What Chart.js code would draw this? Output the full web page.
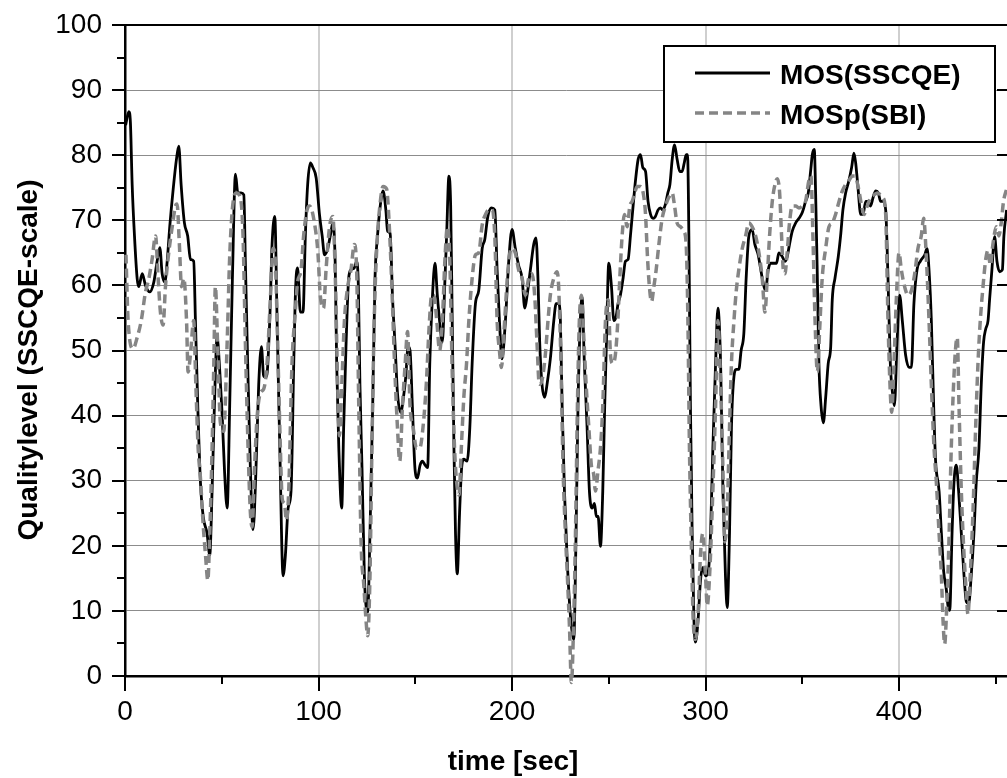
<!DOCTYPE html>
<html>
<head>
<meta charset="utf-8">
<title>MOS vs MOSp</title>
<script src="https://cdn.jsdelivr.net/npm/chart.js@4.4.1/dist/chart.umd.min.js"></script>
<style>
  html, body { margin: 0; padding: 0; background: #fff; overflow: hidden; }
  #wrap { width: 1007px; height: 778px; }
</style>
</head>
<body>
<div id="wrap"><canvas id="myChart" width="1007" height="778"></canvas></div>
<script>
// MOS(SSCQE) - time [sec] and quality level
const mosTime = [
  0.3, 2.0, 2.8, 3.7, 4.9, 6.3, 7.1, 8.9, 10.6, 12.8, 14.9, 16.6, 18.0, 19.2, 20.6, 21.8, 23.2, 24.9, 26.6, 27.8,
  29.0, 30.7, 32.4, 33.8, 35.5, 36.4, 37.6, 39.0, 40.4, 42.4, 43.8, 45.0, 46.2, 47.6, 49.0, 50.2, 51.4, 52.8, 54.1, 55.5,
  57.1, 58.3, 60.0, 61.4, 62.2, 63.4, 64.8, 66.2, 67.6, 69.1, 70.5, 71.7, 73.1, 74.8, 76.0, 77.4, 78.6, 80.0, 81.7, 82.9,
  84.3, 85.8, 87.2, 88.2, 89.2, 90.6, 92.0, 93.2, 94.4, 95.8,
  97.1, 98.8, 100.5, 101.9, 103.1, 104.8, 106.5, 107.4, 108.6, 109.4, 110.5, 112.0, 113.0, 114.2, 115.6, 116.8, 118.5, 119.7, 120.6, 121.4,
  122.5, 123.7, 125.4, 126.6, 128.0, 129.2, 130.5, 131.9, 133.4, 134.8, 135.7, 137.0, 138.3, 139.6, 140.8, 142.5, 143.9, 145.1, 146.3, 147.3,
  148.5, 149.9, 151.1, 152.5, 153.7, 155.1, 156.4, 157.5, 158.8, 160.2, 161.4, 162.8, 164.0, 165.2, 166.2, 167.4, 168.3, 169.1, 170.0, 170.8,
  171.7, 172.9, 173.9, 175.1, 176.8, 178.2, 179.4, 181.1, 182.8, 184.6, 185.9, 187.5, 189.4, 191.1, 192.3, 193.5,
  194.8, 196.6, 198.3, 200.0, 201.7, 203.4, 205.2, 206.6, 207.8, 209.5, 211.2, 212.4, 213.4, 214.3, 215.5, 216.9, 218.1, 219.8, 221.6, 222.8,
  224.1, 225.0, 225.9, 227.1, 228.4, 229.8, 231.0, 231.9, 233.1, 234.1, 235.3, 236.2, 237.4, 238.8, 240.0, 241.4, 242.6, 243.6, 244.5, 245.7,
  246.9, 247.9, 248.8, 250.0, 251.4, 252.6, 253.8, 254.8, 256.0, 257.4, 258.6, 260.0, 261.2, 262.4, 263.8, 265.2, 266.4, 267.6, 269.0, 270.3,
  271.6, 272.9, 274.1, 275.5, 276.7, 277.9, 279.3, 280.5, 281.6, 282.8, 284.0, 285.3, 286.7, 287.9, 289.0, 290.0, 290.7, 291.4, 292.2, 293.1,
  294.0, 294.8, 296.2, 297.4, 298.6, 300.0, 301.4, 302.6, 303.8, 305.2, 306.4,
  307.8, 309.0, 310.3, 311.2, 312.4, 313.4, 314.7, 315.9, 317.2, 318.4, 319.8, 321.0, 322.4, 324.1, 325.5, 327.2, 328.4, 329.7, 331.0, 332.4,
  333.6, 335.3, 336.7, 337.9, 339.7, 341.0, 342.2, 343.4, 344.8, 346.6, 348.3, 350.0, 351.7, 353.1, 354.3, 355.2, 356.2, 356.9, 357.8, 358.6,
  359.7, 360.9, 362.1, 363.4, 364.7, 365.5, 366.9, 368.6, 369.8, 371.0, 372.4, 374.1, 375.5, 376.7, 377.6, 378.8, 380.2, 381.4, 382.8, 384.1,
  385.3, 386.6, 388.0, 389.3, 390.5,
  391.7, 393.1, 394.3, 395.5, 396.9, 397.6, 399.0, 400.3, 401.7, 403.4, 405.2, 406.4, 407.7, 409.3, 411.0, 413.3, 414.5, 415.5, 416.7, 417.9,
  418.9, 420.7, 421.9, 423.1, 424.4, 425.3, 426.2, 427.4, 428.4, 429.6, 430.8, 432.2, 433.6, 434.8, 436.0, 437.3, 438.7, 439.9, 441.3, 442.5,
  443.7, 444.8, 446.0, 446.8, 448.0, 449.4, 450.6, 452.0, 453.4, 454.2, 455.6
];
const mosValue = [
  84.6, 86.7, 85.0, 75.5, 67.6, 61.0, 59.8, 61.8, 60.0, 59.0, 60.5, 63.7, 65.8, 61.8, 60.5, 63.7, 69.3, 74.8, 79.4, 81.4,
  75.5, 69.6, 67.6, 64.0, 63.7, 54.6, 41.5, 29.7, 24.5, 21.9, 18.6, 28.4, 41.5, 52.0, 46.7, 40.2, 31.7, 25.8, 41.5, 61.0,
  77.1, 74.2, 74.2, 73.9, 63.7, 48.0, 31.7, 22.5, 31.0, 44.8, 50.6, 46.0, 46.0, 54.6, 66.3, 70.6, 54.6, 35.0, 15.4, 18.6,
  25.8, 28.4, 48.0, 59.8, 62.7, 55.9, 55.9, 67.6, 75.5, 78.8,
  78.1, 76.5, 70.9, 67.6, 64.7, 65.7, 68.3, 69.6, 63.7, 48.0, 35.0, 25.8, 38.2, 50.6, 61.1, 62.4, 62.7, 63.7, 59.8, 44.8,
  31.7, 15.4, 9.8, 21.9, 41.5, 61.1, 67.6, 72.2, 74.5, 71.6, 68.3, 68.0, 57.8, 50.6, 43.5, 40.5, 42.8, 46.0, 50.6, 50.0,
  41.5, 31.7, 30.4, 32.4, 33.0, 32.4, 32.0, 48.0, 57.8, 63.4, 58.5, 53.9, 51.3, 59.8, 67.6, 76.8, 72.2, 54.6, 35.0, 21.9,
  15.7, 25.1, 31.7, 33.3, 33.0, 38.2, 48.0, 57.2, 59.2, 65.7, 67.0, 70.6, 71.9, 71.6, 62.4, 54.6,
  48.7, 54.6, 63.7, 68.6, 65.7, 63.1, 61.1, 56.5, 58.5, 62.4, 66.3, 67.3, 61.1, 51.3, 44.8, 42.8, 44.8, 48.7, 54.6, 57.2,
  57.2, 54.6, 41.5, 28.4, 18.6, 10.8, 6.9, 5.6, 21.9, 41.5, 54.6, 58.2, 48.0, 38.2, 28.4, 25.8, 26.5, 24.5, 24.5, 19.9,
  28.4, 41.5, 51.3, 63.4, 59.8, 54.6, 55.2, 57.2, 58.5, 61.1, 63.7, 64.0, 67.6, 71.6, 76.1, 79.4, 80.1, 78.1, 77.5, 72.9,
  70.9, 70.3, 70.6, 71.6, 71.9, 71.6, 72.5, 74.2, 75.5, 79.4, 81.6, 79.4, 77.5, 77.5, 78.8, 80.1, 80.1, 67.6, 41.5, 21.9,
  8.8, 5.2, 8.8, 14.7, 16.7, 15.4, 16.0, 21.9, 35.0, 48.0, 56.5,
  48.0, 28.4, 15.4, 10.5, 21.9, 38.2, 46.0, 47.1, 47.1, 50.0, 52.6, 61.1, 67.6, 68.6, 66.3, 64.7, 62.7, 60.5, 59.2, 62.4,
  63.4, 63.4, 63.4, 65.0, 64.4, 63.7, 64.4, 66.3, 68.3, 69.6, 70.3, 71.2, 72.9, 74.2, 77.5, 80.1, 80.9, 74.2, 61.1, 48.0,
  41.5, 38.9, 42.8, 48.0, 50.6, 57.8, 61.1, 64.4, 67.6, 71.6, 74.2, 76.1, 78.1, 80.3, 78.8, 75.0, 70.9, 70.9, 72.9, 72.9,
  72.2, 73.5, 74.5, 74.2, 72.9,
  72.9, 71.6, 61.1, 48.0, 42.8, 41.5, 51.3, 58.5, 54.6, 49.3, 47.4, 47.4, 57.2, 62.4, 63.7, 64.7, 65.7, 62.4, 54.6, 41.5,
  33.0, 28.4, 21.9, 16.0, 13.4, 10.8, 10.1, 21.9, 29.7, 32.4, 28.4, 21.9, 15.4, 11.4, 11.1, 15.4, 21.9, 29.7, 35.0, 44.8,
  51.3, 53.3, 54.6, 57.8, 62.4, 67.5, 63.7, 62.1, 62.4, 67.6, 71.6
];

// MOSp(SBI) - predicted quality level
const sbiTime = [
  0.5, 1.6, 4.2, 6.3, 8.4, 10.6, 12.3, 14.0, 15.8, 17.0, 18.3, 19.7, 20.9, 22.6, 24.4, 26.1, 26.9, 28.1, 29.2, 30.4,
  31.8, 32.6, 33.8, 35.5, 36.6, 37.8, 39.0, 40.4, 41.6, 42.8, 43.8, 45.0, 45.9, 46.7, 47.9, 49.3, 51.0, 52.8, 54.1, 55.9,
  57.6, 59.6, 61.0, 62.2, 63.6, 64.8, 65.7, 66.9, 68.2, 70.0, 71.7, 73.4, 75.1, 76.5, 77.7, 78.6, 80.0, 81.3, 82.4, 83.4,
  84.6, 86.3, 88.0, 89.2, 91.0, 92.3, 94.1, 95.4,
  97.9, 99.7, 100.9, 102.6, 103.9, 105.7, 107.4, 108.7, 109.9, 110.8, 112.2, 113.4, 115.1, 116.8, 118.5, 119.7, 120.8, 122.0, 123.4, 124.5,
  125.4, 126.6, 127.6, 128.8, 130.2, 131.7, 133.4, 135.2, 136.5, 137.9, 139.3, 140.8, 142.0, 143.4, 144.8, 146.0, 147.3, 148.9, 150.6, 152.3,
  154.0, 155.7, 157.1, 158.5, 159.7, 161.1, 162.6, 164.0, 165.4, 166.6, 167.8, 169.1, 170.3, 171.4, 172.6, 173.8, 175.1, 176.5, 177.7, 179.4,
  181.1, 182.8, 184.6, 186.3, 188.0, 189.7, 191.1, 192.3, 193.5, 194.5,
  196.2, 197.9, 199.7, 201.7, 203.4, 205.2, 206.9, 208.6, 210.3, 211.7, 212.9, 214.1, 215.5, 217.2, 218.6, 219.8, 221.6, 223.3, 224.1, 225.3,
  226.4, 227.6, 228.8, 229.7, 230.7, 231.9, 232.8, 233.8, 234.8, 235.9, 237.1, 238.3, 239.7, 241.0, 242.2, 243.1, 244.5, 245.7, 246.9, 248.3,
  249.7, 250.9, 252.1, 253.4, 254.7, 255.7, 256.9, 258.1, 259.5, 260.9, 262.1, 263.4, 264.7, 266.4, 267.8, 269.0, 270.0, 271.0, 272.1, 273.3,
  274.5, 275.9, 277.6, 279.3, 281.0, 282.8, 284.0, 285.3, 287.1, 288.8, 290.0, 290.9, 291.7, 292.8, 293.6, 294.8, 296.0, 297.4, 298.6, 300.0,
  300.9, 302.1, 303.4, 305.2, 306.4,
  307.8, 309.0, 310.0, 311.2, 312.4, 313.4, 314.7, 315.9, 317.2, 319.0, 320.7, 322.4, 324.1, 325.9, 327.6, 329.3, 330.7, 331.9, 333.1, 334.5,
  335.9, 337.1, 338.3, 339.3, 340.2, 341.0, 342.2, 343.4, 344.8, 346.6, 348.3, 350.0, 351.7, 353.4, 354.5, 355.5, 356.6, 357.8, 359.0, 360.3,
  362.1, 363.8, 365.5, 367.2, 369.0, 370.7, 372.4, 374.1, 375.9, 377.2, 379.0, 380.7, 381.9, 383.6, 385.3, 387.1, 388.8, 390.5,
  391.7, 393.1, 394.3, 395.5, 396.2, 397.4, 398.6, 400.0, 401.2, 402.9, 404.6, 406.4, 408.1, 409.8, 411.5, 412.7, 414.1, 415.5, 416.7, 418.1,
  419.3, 420.7, 421.9, 422.7, 423.6, 424.4, 425.6, 427.0, 428.2, 429.3, 430.1, 431.0, 432.2, 433.6, 434.8, 435.6, 436.8, 438.2, 439.6, 440.8,
  442.0, 443.4, 444.8, 446.0, 447.2, 448.5, 450.3, 451.6, 452.8, 454.0, 455.6
];
const sbiValue = [
  64.7, 54.6, 50.3, 52.0, 54.6, 59.0, 61.0, 64.0, 67.6, 61.8, 55.9, 53.9, 59.8, 65.0, 69.0, 72.2, 72.5, 66.3, 59.8, 61.1,
  54.6, 46.7, 49.3, 54.6, 44.8, 35.0, 30.4, 23.2, 18.6, 14.7, 21.9, 35.0, 48.0, 59.8, 50.6, 38.9, 37.6, 51.3, 64.4, 72.9,
  74.2, 73.5, 67.6, 51.3, 35.0, 25.1, 22.9, 31.7, 39.5, 43.5, 44.1, 48.0, 57.8, 65.7, 63.7, 54.6, 38.2, 27.1, 26.5, 23.9,
  28.4, 48.0, 55.9, 60.5, 62.4, 67.6, 71.6, 72.2,
  69.6, 65.0, 58.5, 56.5, 62.4, 69.0, 70.6, 61.1, 44.8, 36.9, 46.0, 54.6, 59.8, 62.4, 66.3, 62.4, 41.5, 20.6, 14.0, 8.8,
  6.2, 15.4, 35.0, 54.6, 66.3, 72.2, 75.2, 74.8, 69.6, 59.8, 48.0, 38.2, 33.0, 41.5, 48.0, 52.9, 41.5, 38.2, 35.0, 35.0,
  38.2, 44.8, 53.3, 58.5, 58.5, 54.6, 50.0, 54.6, 64.4, 69.0, 64.4, 46.7, 35.0, 29.7, 27.8, 35.0, 42.8, 48.0, 54.6, 61.1,
  64.7, 65.0, 69.3, 70.9, 71.6, 71.6, 67.6, 54.6, 50.0, 47.4,
  54.6, 62.4, 65.7, 65.0, 62.4, 61.1, 58.5, 61.1, 61.8, 58.5, 51.3, 44.8, 45.4, 49.3, 54.6, 58.5, 61.1, 62.1, 59.8, 48.0,
  31.7, 21.9, 14.0, 7.5, -1.0, 8.8, 21.9, 41.5, 54.6, 58.5, 52.0, 44.8, 38.2, 32.4, 31.0, 28.4, 31.7, 35.0, 41.5, 54.6,
  57.8, 49.3, 48.0, 49.3, 54.6, 61.1, 67.6, 70.9, 69.0, 72.2, 72.9, 74.2, 75.2, 75.2, 74.2, 70.9, 64.4, 59.8, 57.5, 59.8,
  62.4, 66.3, 70.3, 72.2, 73.5, 74.2, 72.2, 69.6, 69.0, 68.3, 66.3, 54.6, 35.0, 18.6, 8.8, 5.6, 8.8, 18.6, 21.9, 15.4,
  10.8, 15.4, 25.1, 41.5, 54.6,
  44.8, 31.7, 20.6, 25.1, 38.2, 48.0, 54.6, 59.2, 62.4, 65.7, 67.6, 69.6, 69.0, 67.6, 65.0, 61.1, 55.9, 61.1, 67.6, 72.9,
  75.5, 76.4, 74.2, 67.6, 62.4, 61.8, 65.0, 69.6, 72.2, 72.2, 71.9, 72.2, 72.9, 76.1, 76.8, 67.6, 54.6, 46.7, 53.3, 61.1,
  65.7, 69.0, 69.6, 70.9, 72.9, 74.5, 75.5, 76.1, 76.8, 76.8, 75.0, 72.2, 70.9, 72.2, 73.5, 73.9, 74.2, 73.9,
  73.5, 70.9, 54.6, 43.5, 40.5, 48.0, 57.8, 65.0, 62.4, 59.8, 58.5, 59.2, 61.8, 65.7, 67.6, 70.3, 64.4, 54.6, 44.8, 35.0,
  29.7, 21.9, 15.4, 8.8, 4.9, 8.8, 18.6, 35.0, 44.8, 50.6, 52.0, 41.5, 28.4, 18.6, 12.7, 9.5, 15.4, 25.1, 38.2, 48.0,
  54.6, 59.8, 64.0, 65.4, 63.1, 66.3, 69.0, 67.6, 69.6, 72.9, 74.8
];

// axis ticks
const xTickValues = [0, 100, 200, 300, 400];
const yTickValues = [0, 10, 20, 30, 40, 50, 60, 70, 80, 90, 100];

const seriesNames = ['MOS(SSCQE)', 'MOSp(SBI)'];

const labelFont = '"Liberation Sans", Arial, Helvetica, sans-serif';

function toPoints(times, values) {
  return times.map((t, i) => ({ x: t, y: values[i] }));
}

// frame, tick marks, legend box and axis titles
const decorations = {
  id: 'decorations',
  afterDraw(chart) {
    const ctx = chart.ctx;
    const area = chart.chartArea;
    const xs = chart.scales.x;
    const ys = chart.scales.y;
    ctx.save();
    ctx.strokeStyle = '#000';
    ctx.lineWidth = 2;

    // top frame line
    ctx.beginPath();
    ctx.moveTo(area.left, area.top);
    ctx.lineTo(area.right, area.top);
    ctx.stroke();

    // y tick marks: outward on the left, inward on the right
    for (let v = ys.min; v <= ys.max; v += 5) {
      const py = Math.round(ys.getPixelForValue(v));
      const major = v % 10 === 0;
      const len = major ? 13 : 8;
      ctx.beginPath();
      ctx.moveTo(area.left - len, py);
      ctx.lineTo(area.left, py);
      ctx.stroke();
      if (major) {
        ctx.beginPath();
        ctx.moveTo(area.right, py);
        ctx.lineTo(area.right - 10, py);
        ctx.stroke();
      }
    }
    // x tick marks, outward
    for (let v = 0; v <= xs.max; v += 50) {
      const px = Math.round(xs.getPixelForValue(v));
      const len = v % 100 === 0 ? 15 : 8;
      ctx.beginPath();
      ctx.moveTo(px, area.bottom);
      ctx.lineTo(px, area.bottom + len);
      ctx.stroke();
    }

    // legend
    const sets = chart.data.datasets;
    const box = { x: 664, y: 46, w: 331, h: 96 };
    ctx.fillStyle = '#fff';
    ctx.fillRect(box.x, box.y, box.w, box.h);
    ctx.lineWidth = 2;
    ctx.strokeStyle = '#000';
    ctx.strokeRect(box.x, box.y, box.w, box.h);
    ctx.font = 'bold 28px ' + labelFont;
    ctx.textAlign = 'left';
    ctx.textBaseline = 'alphabetic';
    sets.forEach((ds, i) => {
      const ly = 73 + i * 40;
      ctx.beginPath();
      ctx.strokeStyle = ds.borderColor;
      ctx.lineWidth = ds.borderWidth;
      ctx.setLineDash(ds.borderDash || []);
      ctx.moveTo(695, ly);
      ctx.lineTo(770, ly);
      ctx.stroke();
      ctx.setLineDash([]);
      ctx.fillStyle = '#000';
      ctx.fillText(ds.label, 780, ly + 11);
    });

    // axis titles
    ctx.fillStyle = '#000';
    ctx.textAlign = 'center';
    ctx.fillText('time [sec]', 513, 770);
    ctx.translate(37, 360);
    ctx.rotate(-Math.PI / 2);
    ctx.fillText('Qualitylevel (SSCQE-scale)', 0, 0);
    ctx.restore();
  }
};

const myChart = new Chart(document.getElementById('myChart'), {
  type: 'line',
  data: {
    datasets: [
      {
        label: seriesNames[0],
        data: toPoints(mosTime, mosValue),
        borderColor: '#000000',
        borderWidth: 2.8,
        pointRadius: 0,
        cubicInterpolationMode: 'monotone',
        borderJoinStyle: 'round',
        order: 1
      },
      {
        label: seriesNames[1],
        data: toPoints(sbiTime, sbiValue),
        borderColor: '#858585',
        borderWidth: 3.5,
        borderDash: [9, 5],
        pointRadius: 0,
        cubicInterpolationMode: 'monotone',
        clip: false,
        order: 0
      }
    ]
  },
  options: {
    responsive: false,
    animation: false,
    events: [],
    layout: { padding: { top: 25, right: 0, left: 0, bottom: 0 } },
    plugins: {
      legend: { display: false },
      tooltip: { enabled: false }
    },
    scales: {
      x: {
        type: 'linear',
        min: 0,
        max: 455.8,
        afterBuildTicks: scale => { scale.ticks = xTickValues.map(v => ({ value: v })); },
        afterFit: scale => {
          scale.height = 102;
          scale.paddingLeft = 0;
          scale.paddingRight = 0;
        },
        ticks: {
          padding: 19,
          color: '#000',
          font: { family: labelFont, size: 28 }
        },
        grid: {
          drawTicks: false,
          lineWidth: 2,
          color: c => (c.tick && c.tick.value === 0 ? 'rgba(0,0,0,0)' : '#cfcfcf')
        },
        border: { display: true, color: '#000', width: 2.5 }
      },
      y: {
        min: 0,
        max: 100,
        afterBuildTicks: scale => { scale.ticks = yTickValues.map(v => ({ value: v })); },
        afterFit: scale => {
          scale.width = 125;
          scale.paddingTop = 0;
          scale.paddingBottom = 0;
        },
        ticks: {
          padding: 23,
          color: '#000',
          font: { family: labelFont, size: 28 }
        },
        grid: {
          drawTicks: false,
          lineWidth: 1,
          color: c => (c.tick && (c.tick.value === 0 || c.tick.value === 100) ? 'rgba(0,0,0,0)' : '#8c8c8c')
        },
        border: { display: true, color: '#000', width: 2.5 }
      }
    }
  },
  plugins: [decorations]
});
</script>
</body>
</html>
